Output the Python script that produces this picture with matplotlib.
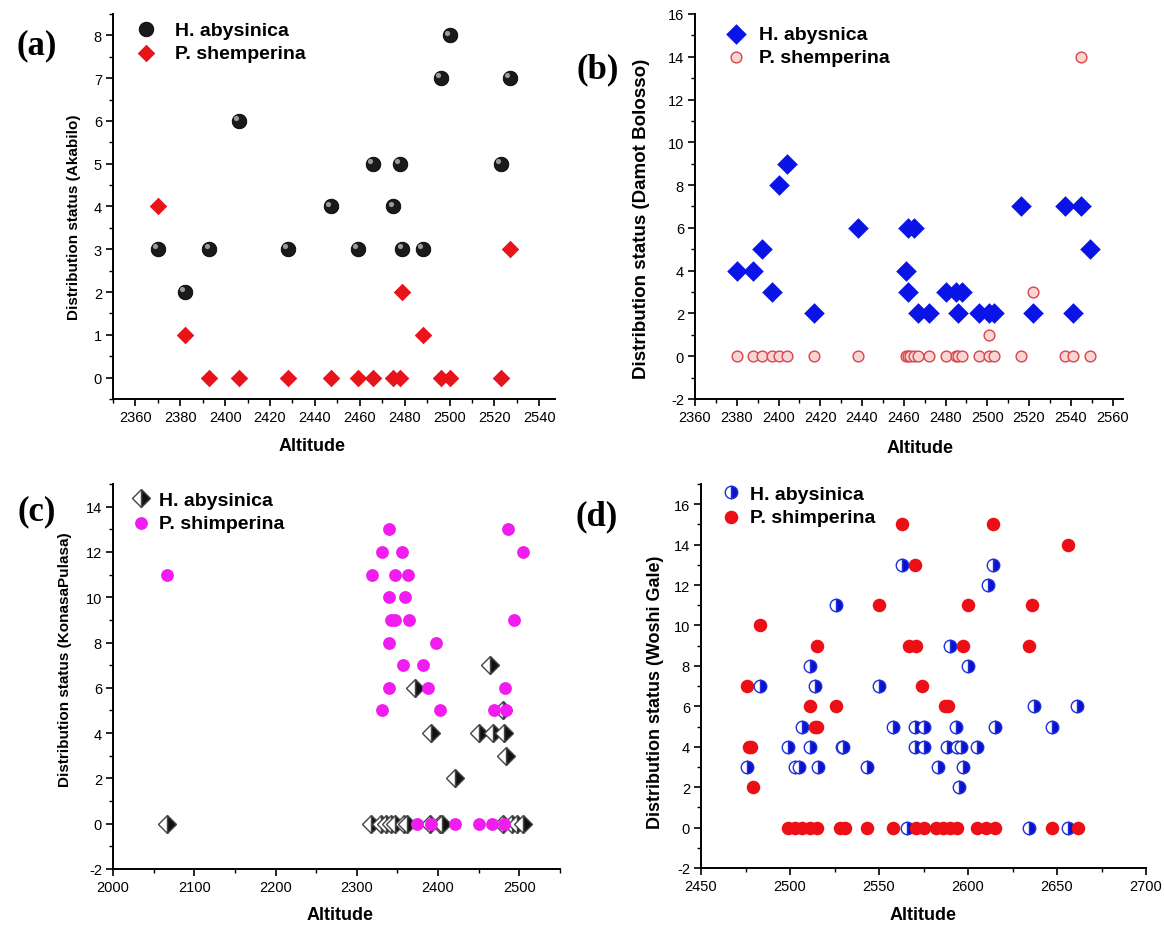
import matplotlib
matplotlib.use("Agg")
import matplotlib.pyplot as plt
from matplotlib import font_manager
from matplotlib.ticker import MultipleLocator
from matplotlib.transforms import offset_copy

# ---- data (altitude, distribution status) ----
a_hab_alt = [2370, 2382, 2393, 2406, 2428, 2447, 2459, 2466, 2475, 2478, 2479, 2488, 2496, 2500, 2523, 2527]
a_hab_val = [3, 2, 3, 6, 3, 4, 3, 5, 4, 5, 3, 3, 7, 8, 5, 7]
a_psh_alt = [2370, 2382, 2393, 2406, 2428, 2447, 2459, 2466, 2475, 2478, 2479, 2488, 2496, 2500, 2523, 2527]
a_psh_val = [4, 1, 0, 0, 0, 0, 0, 0, 0, 0, 2, 1, 0, 0, 0, 3]

b_hab_alt = [2380, 2388, 2392, 2397, 2400, 2404, 2417, 2438, 2461, 2462, 2462, 2465, 2467, 2472,
             2480, 2485, 2486, 2488, 2496, 2501, 2503, 2516, 2522, 2537, 2541, 2545, 2549]
b_hab_val = [4, 4, 5, 3, 8, 9, 2, 6, 4, 3, 6, 6, 2, 2, 3, 3, 2, 3, 2, 2, 2, 7, 2, 7, 2, 7, 5]
b_psh_alt = [2380, 2388, 2392, 2397, 2400, 2404, 2417, 2438, 2461, 2462, 2463, 2465, 2467, 2472,
             2480, 2485, 2486, 2488, 2496, 2501, 2501, 2503, 2516, 2522, 2537, 2541, 2545, 2549]
b_psh_val = [0, 0, 0, 0, 0, 0, 0, 0, 0, 0, 0, 0, 0, 0,
             0, 0, 0, 0, 0, 1, 0, 0, 0, 3, 0, 0, 14, 0]

c_hab_alt = [2067, 2318, 2330, 2336, 2342, 2347, 2358, 2362, 2372, 2390, 2391, 2402, 2405, 2421,
             2450, 2464, 2468, 2480, 2480, 2481, 2484, 2491, 2497, 2505]
c_hab_val = [0, 0, 0, 0, 0, 0, 0, 0, 6, 0, 4, 0, 0, 2, 4, 7, 4, 5, 0, 4, 3, 0, 0, 0]
c_psh_alt = [2067, 2319, 2331, 2331, 2339, 2340, 2340, 2340, 2342, 2347, 2347, 2355, 2357, 2359,
             2363, 2364, 2374, 2382, 2387, 2391, 2397, 2402, 2421, 2450, 2466, 2469, 2481, 2482,
             2484, 2486, 2494, 2505]
c_psh_val = [11, 11, 12, 5, 13, 10, 8, 6, 9, 11, 9, 12, 7, 10,
             11, 9, 0, 7, 6, 0, 8, 5, 0, 0, 0, 5, 0, 6,
             5, 13, 9, 12]

d_hab_alt = [2476, 2483, 2499, 2503, 2505, 2507, 2511, 2511, 2514, 2516, 2526, 2529, 2530, 2543,
             2550, 2558, 2563, 2566, 2570, 2570, 2575, 2575, 2583, 2588, 2590, 2593, 2594, 2595,
             2596, 2597, 2600, 2605, 2611, 2614, 2615, 2634, 2637, 2647, 2656, 2661]
d_hab_val = [3, 7, 4, 3, 3, 5, 8, 4, 7, 3, 11, 4, 4, 3,
             7, 5, 13, 0, 5, 4, 5, 4, 3, 4, 9, 5, 4, 2,
             4, 3, 8, 4, 12, 13, 5, 0, 6, 5, 0, 6]
d_psh_alt = [2476, 2477, 2478, 2479, 2483, 2499, 2503, 2507, 2511, 2511, 2514, 2515, 2515, 2515,
             2526, 2528, 2531, 2543, 2550, 2558, 2563, 2567, 2570, 2571, 2571, 2574, 2575, 2582,
             2586, 2587, 2589, 2590, 2594, 2597, 2600, 2605, 2610, 2614, 2615, 2634, 2636, 2647,
             2656, 2662]
d_psh_val = [7, 4, 4, 2, 10, 0, 0, 0, 0, 6, 5, 0, 5, 9,
             6, 0, 0, 0, 11, 0, 15, 9, 13, 0, 9, 7, 0, 0,
             0, 6, 6, 0, 0, 9, 11, 0, 0, 15, 0, 9, 11, 0,
             14, 0]

# ---- fonts ----
installed = {f.name for f in font_manager.fontManager.ttflist}
sans = [f for f in ["Liberation Sans", "DejaVu Sans"] if f in installed]
serif = [f for f in ["Liberation Serif", "DejaVu Serif"] if f in installed]
plt.rcParams["font.family"] = sans
plt.rcParams["axes.unicode_minus"] = False

W, H = 1164, 928
fig = plt.figure(figsize=(W / 100, H / 100), dpi=100)


def px_axes(left, top, right, bottom):
    return fig.add_axes([left / W, 1 - bottom / H, (right - left) / W, (bottom - top) / H])


def style(ax, xlim, ylim, xmaj, xmin, ymaj, ymin, xticks0):
    ax.set_xlim(*xlim)
    ax.set_ylim(*ylim)
    ax.set_xticks(range(xticks0, int(xlim[1]) + 1, xmaj))
    ax.xaxis.set_minor_locator(MultipleLocator(xmin))
    ax.yaxis.set_major_locator(MultipleLocator(ymaj))
    ax.yaxis.set_minor_locator(MultipleLocator(ymin))
    for s in ["top", "right"]:
        ax.spines[s].set_visible(False)
    for s in ["left", "bottom"]:
        ax.spines[s].set_linewidth(1.4)
    ax.tick_params(which="major", direction="out", length=5, width=1.2, labelsize=10.5, pad=3)
    ax.tick_params(which="minor", direction="out", length=3, width=1.0)


def legend(ax, x, y, pad, handles=None, labs=None):
    kw = dict(loc="upper left", bbox_to_anchor=(x, y), frameon=False, borderpad=0, borderaxespad=0,
              handlelength=1.0, handletextpad=pad, labelspacing=0.3,
              prop={"family": sans, "weight": "bold", "size": 14})
    if handles is None:
        ax.legend(**kw)
    else:
        ax.legend(handles, labs, **kw)


def labels(ax, ylab, ysize, xl, yl, tag, tagxy):
    ax.set_xlabel("Altitude", fontsize=13, fontweight="bold", va="center")
    ax.xaxis.set_label_coords(*xl)
    ax.set_ylabel(ylab, fontsize=ysize, fontweight="bold", va="center")
    ax.yaxis.set_label_coords(*yl)
    fig.text(tagxy[0] / W, 1 - tagxy[1] / H, tag, family=serif, fontsize=25, fontweight="bold",
             ha="center", va="center")


# (a) Akabilo
ax = px_axes(113, 15, 555, 400)
ax.scatter(a_hab_alt, a_hab_val, s=110, marker="o", c="#1a1a1a", edgecolors="black", linewidths=0.6,
           label="H. abysinica", zorder=3)
hl = offset_copy(ax.transData, fig=fig, x=-2, y=2, units="points")
ax.scatter(a_hab_alt, a_hab_val, s=14, marker="o", c="#9a9a9a", linewidths=0, transform=hl, zorder=4)
ax.scatter(a_psh_alt, a_psh_val, s=80, marker="D", c="#e8141a", linewidths=0,
           label="P. shemperina", zorder=3)
style(ax, (2350, 2547), (-0.5, 8.5), 20, 10, 1, 0.5, 2360)
legend(ax, 0.052, 0.982, 1.0)
labels(ax, "Distribution status (Akabilo)", 11, (0.45, -0.122), (-0.088, 0.475), "(a)", (37, 46))

# (b) Damot Bolosso
ax = px_axes(695, 15, 1123, 400)
ax.scatter(b_hab_alt, b_hab_val, s=110, marker="D", c="#0a14e6", linewidths=0,
           label="H. abysnica", zorder=3)
ax.scatter(b_psh_alt, b_psh_val, s=60, marker="o", c="#f9d6d6", edgecolors="#d8454a", linewidths=1.0,
           label="P. shemperina", zorder=4)
style(ax, (2360, 2565), (-2, 16), 20, 10, 2, 1, 2360)
legend(ax, 0.072, 0.971, 0.7)
labels(ax, "Distribution status (Damot Bolosso)", 13.5, (0.526, -0.125), (-0.124, 0.47), "(b)", (598, 70))

# (c) Konasa Pulasa
ax = px_axes(113, 485, 560, 870)
ax.plot(c_hab_alt, c_hab_val, ls="none", marker="D", markersize=9, fillstyle="right",
        markerfacecolor="#111111", markerfacecoloralt="white", markeredgecolor="#444444",
        markeredgewidth=1.0, label="H. abysinica", zorder=3)
ax.scatter(c_psh_alt, c_psh_val, s=85, marker="o", c="#f01cf0", linewidths=0,
           label="P. shimperina", zorder=4)
style(ax, (2000, 2550), (-2, 15), 100, 50, 2, 1, 2000)
legend(ax, 0.04, 0.982, 0.45)
labels(ax, "Distribution status (KonasaPulasa)", 11, (0.508, -0.117), (-0.107, 0.545), "(c)", (37, 512))

# (d) Woshi Gale
ax = px_axes(701, 485, 1146, 869)
ax.plot(d_hab_alt, d_hab_val, ls="none", marker="o", markersize=9, fillstyle="right",
        markerfacecolor="#0a10d0", markerfacecoloralt="white", markeredgecolor="#2030d8",
        markeredgewidth=1.0, label="H. abysinica", zorder=3)
ax.scatter(d_psh_alt, d_psh_val, s=95, marker="o", c="#ec1016", linewidths=0,
           label="P. shimperina", zorder=4)
style(ax, (2450, 2700), (-2, 17), 50, 25, 2, 1, 2450)
legend(ax, 0.045, 0.997, 0.5)
labels(ax, "Distribution status (Woshi Gale)", 13, (0.499, -0.122), (-0.103, 0.46), "(d)", (597, 517))

fig.savefig("out.png", dpi=100)
